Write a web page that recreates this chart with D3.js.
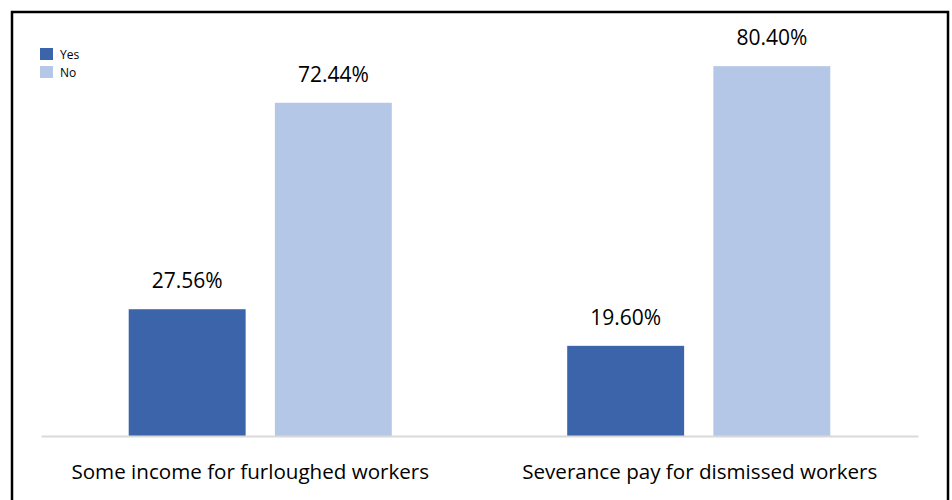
<!DOCTYPE html>
<html>
<head>
<meta charset="utf-8">
<script src="https://cdn.jsdelivr.net/npm/d3@7"></script>
<style>
html,body{margin:0;padding:0;background:#fff;}
svg{display:block;}
text{font-family:"Open Sans",sans-serif;fill:#000;}
</style>
</head>
<body>
<svg id="chart" width="952" height="500"></svg>
<script>
const categories = ["Some income for furloughed workers", "Severance pay for dismissed workers"];
const seriesNames = ["Yes", "No"];
const yesValues = [27.56, 19.60];
const noValues = [72.44, 80.40];
const valueLabels = [["27.56%", "72.44%"], ["19.60%", "80.40%"]];
const colors = ["#3c64ab", "#b4c7e7"];

const svg = d3.select("#chart");
const W = 952, H = 500;
const labelShift = [-10, 1];

// outer border
svg.append("rect").attr("x", 12).attr("y", 12).attr("width", 936).attr("height", 500)
  .attr("fill", "none").attr("stroke", "#000").attr("stroke-width", 2.5);

const left = 41, right = 918, baseY = 436;
const x0 = d3.scaleBand().domain(categories).range([left, right]).paddingInner(0).paddingOuter(0);
const x1 = d3.scaleBand().domain(seriesNames).range([0, x0.bandwidth()]).paddingInner(0.2).paddingOuter(0.6);
const y = d3.scaleLinear().domain([0, 100]).range([baseY, baseY - 460]);

const data = categories.map((c, i) => ({cat: c, vals: [yesValues[i], noValues[i]], labels: valueLabels[i]}));

const g = svg.append("g");
const groups = g.selectAll("g.grp").data(data).join("g")
  .attr("transform", d => `translate(${x0(d.cat)},0)`);

groups.selectAll("rect").data(d => d.vals.map((v, j) => ({s: seriesNames[j], v, j})))
  .join("rect")
  .attr("x", d => x1(d.s))
  .attr("y", d => y(d.v))
  .attr("width", x1.bandwidth())
  .attr("height", d => baseY - y(d.v))
  .attr("fill", d => colors[d.j]);

groups.selectAll("text.val").data(d => d.vals.map((v, j) => ({s: seriesNames[j], v, j, l: d.labels[j]})))
  .join("text").attr("class", "val")
  .attr("x", d => x1(d.s) + x1.bandwidth() / 2)
  .attr("y", d => y(d.v) - 21)
  .attr("text-anchor", "middle")
  .attr("font-size", 21)
  .text(d => d.l);

// baseline axis
const xAxis = d3.axisBottom(x0).tickSize(0).tickPadding(0);
const ax = svg.append("g").attr("transform", `translate(0,${baseY})`).call(xAxis);
ax.select(".domain").attr("stroke", "#d9d9d9").attr("stroke-width", 2);
ax.selectAll(".tick text").attr("y", 43).attr("dy", null)
  .attr("dx", (d, i) => labelShift[i])
  .attr("font-size", 20.6).attr("font-family", "Open Sans, sans-serif").attr("fill", "#000");

// legend
const lg = svg.append("g").attr("transform", "translate(40,48)");
seriesNames.forEach((s, i) => {
  lg.append("rect").attr("x", 0).attr("y", i * 18).attr("width", 13).attr("height", 12).attr("fill", colors[i]);
  lg.append("text").attr("x", 20).attr("y", i * 18 + 11).attr("font-size", 12).text(s);
});
</script>
</body>
</html>
